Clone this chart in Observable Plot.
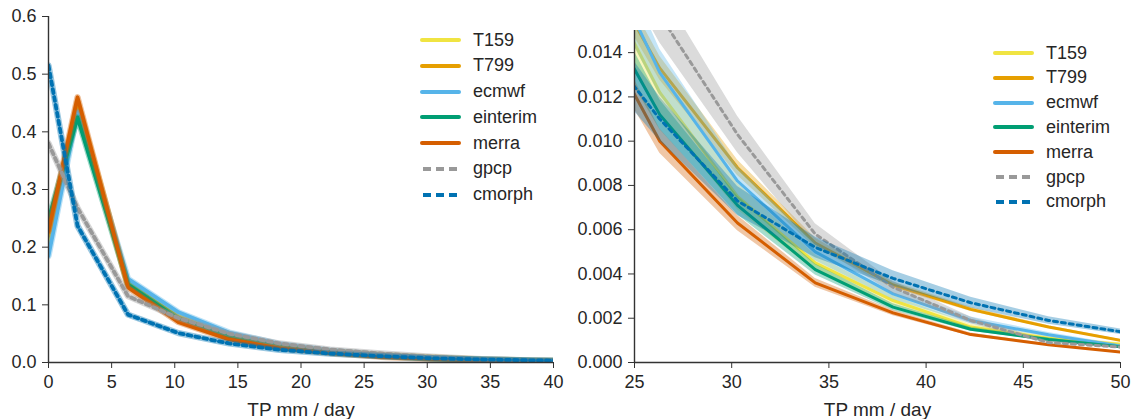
<!DOCTYPE html>
<html><head><meta charset="utf-8">
<script src="https://cdn.jsdelivr.net/npm/d3@7"></script>
<script src="https://cdn.jsdelivr.net/npm/@observablehq/plot@0.6"></script>
<style>
body{margin:0;background:#fff;}
#wrap{position:relative;width:1135px;height:419px;display:flex;font-family:"Liberation Sans",Arial,sans-serif;}
.row{position:absolute;height:24px;display:flex;align-items:center;white-space:nowrap;font-size:18px;color:#262626;}
.row svg{margin-right:12px;}
</style></head><body><div id="wrap"></div>
<script>
// ---- data ----
const xs = [0, 2.3, 6.3, 10.3, 14.3, 18.3, 22.3, 26.3, 30.3, 34.3, 38.3, 42.3, 46.3, 50.3];
const seriesNames = ["T159", "T799", "ecmwf", "einterim", "merra", "gpcp", "cmorph"];
const T159     = [0.210, 0.440, 0.135, 0.080, 0.047, 0.029, 0.0190, 0.0122, 0.0075, 0.0045, 0.0028, 0.0016, 0.0011, 0.0008];
const T799     = [0.220, 0.452, 0.136, 0.078, 0.046, 0.029, 0.0195, 0.0133, 0.0088, 0.0054, 0.0035, 0.0024, 0.0016, 0.00095];
const ecmwf    = [0.185, 0.435, 0.145, 0.087, 0.052, 0.032, 0.0205, 0.0131, 0.0082, 0.0050, 0.0031, 0.0019, 0.00125, 0.0007];
const einterim = [0.248, 0.425, 0.135, 0.075, 0.044, 0.027, 0.0175, 0.0112, 0.0071, 0.0042, 0.0025, 0.0015, 0.00104, 0.00068];
const merra    = [0.228, 0.460, 0.130, 0.070, 0.040, 0.025, 0.0165, 0.0100, 0.0063, 0.0036, 0.00224, 0.00126, 0.0008, 0.00045];
const gpcp     = [0.380, 0.268, 0.115, 0.077, 0.050, 0.033, 0.0225, 0.0157, 0.0103, 0.0058, 0.0034, 0.0019, 0.0009, 0.00068];
const cmorph   = [0.515, 0.237, 0.083, 0.051, 0.033, 0.022, 0.0155, 0.0110, 0.0073, 0.0052, 0.0038, 0.0027, 0.0019, 0.00135];
const spread   = [0.08, 0.04, 0.08, 0.06, 0.055, 0.08, 0.09]; // relative half-width of shaded band
const colors   = ["#f0e442", "#e69f00", "#56b4e9", "#009e73", "#d55e00", "#999999", "#0072b2"];
const dashed   = [false, false, false, false, false, true, true];
const leftXTicks  = [0, 5, 10, 15, 20, 25, 30, 35, 40];
const leftYTicks  = [0, 0.1, 0.2, 0.3, 0.4, 0.5, 0.6];
const rightXTicks = [25, 30, 35, 40, 45, 50];
const rightYTicks = [0, 0.002, 0.004, 0.006, 0.008, 0.010, 0.012, 0.014];
const xLabel = "TP mm / day";

const values = [T159, T799, ecmwf, einterim, merra, gpcp, cmorph];
const rows = seriesNames.flatMap((s, i) => xs.map((x, j) => ({
  series: s, x, y: values[i][j],
  lo: values[i][j] * (1 - spread[i]), hi: values[i][j] * (1 + spread[i])
})));

function panel(o) {
  const marks = [];
  seriesNames.forEach((s, i) => {
    const data = rows.filter(d => d.series === s);
    if (o.bands) {
      marks.push(Plot.areaY(data, {x: "x", y1: "lo", y2: "hi", fill: colors[i], fillOpacity: 0.35, clip: true}));
    } else {
      marks.push(Plot.line(data, {x: "x", y: "y", stroke: colors[i], strokeOpacity: 0.4, strokeWidth: o.sw + 2.5, clip: true}));
    }
    marks.push(Plot.line(data, {x: "x", y: "y", stroke: colors[i], strokeWidth: o.sw,
      strokeDasharray: dashed[i] ? "4,4" : null, clip: true}));
  });
  marks.push(
    Plot.ruleX([o.xDomain[0]], {stroke: "#333", strokeWidth: 1.4}),
    Plot.ruleY([0], {stroke: "#333", strokeWidth: 1.4}),
    Plot.axisX({ticks: o.xTicks, tickSize: 6, tickPadding: 7, stroke: "#333", label: null}),
    Plot.axisX({ticks: [], tickSize: 0, label: xLabel, fontSize: 19,
      labelAnchor: "center", labelArrow: "none", labelOffset: 53}),
    Plot.axisY({ticks: o.yTicks, tickFormat: d3.format(o.yFmt), tickSize: 6, tickPadding: 6, stroke: "#333", label: null})
  );
  return Plot.plot({
    width: o.width, height: 419,
    marginLeft: o.marginLeft, marginRight: o.marginRight, marginTop: o.marginTop, marginBottom: 57,
    x: {domain: o.xDomain}, y: {domain: o.yDomain},
    style: {fontFamily: '"Liberation Sans", Arial, sans-serif', fontSize: "18px", color: "#262626", background: "white"},
    marks
  });
}

const wrap = document.getElementById("wrap");
wrap.append(panel({width: 567, marginLeft: 48, marginRight: 14, marginTop: 16,
  xDomain: [0, 40], yDomain: [0, 0.6], xTicks: leftXTicks, yTicks: leftYTicks, yFmt: ".1f", bands: false, sw: 3.8}));
wrap.append(panel({width: 568, marginLeft: 67, marginRight: 15, marginTop: 30,
  xDomain: [25, 50], yDomain: [0, 0.015], xTicks: rightXTicks, yTicks: rightYTicks, yFmt: ".3f", bands: true, sw: 3}));

function legend(x0, y0, step) {
  seriesNames.forEach((s, i) => {
    const row = document.createElement("div");
    row.className = "row";
    row.style.left = x0 + "px";
    row.style.top = (y0 + i * step - 12) + "px";
    const line = dashed[i]
      ? `<line x1="3" y1="5" x2="38" y2="5" stroke="${colors[i]}" stroke-width="4" stroke-dasharray="8,5"/>`
      : `<line x1="2" y1="5" x2="39" y2="5" stroke="${colors[i]}" stroke-width="4" stroke-linecap="round"/>`;
    row.innerHTML = `<svg width="41" height="10">${line}</svg><span>${s}</span>`;
    wrap.append(row);
  });
}
legend(420, 40, 25.75);
legend(993, 53, 24.8);
</script></body></html>
